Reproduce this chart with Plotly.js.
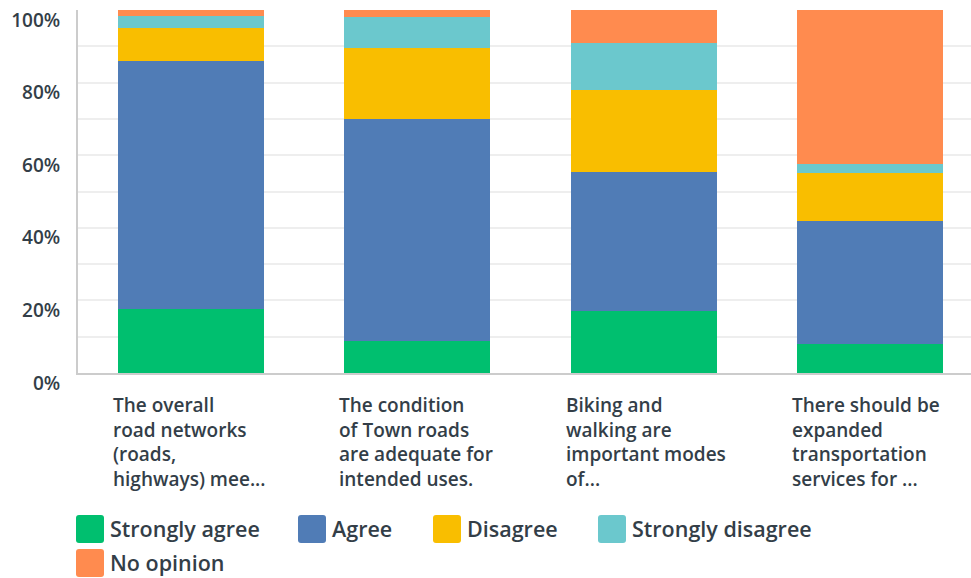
<!DOCTYPE html>
<html><head><meta charset="utf-8">
<script src="https://cdn.plot.ly/plotly-3.0.1.min.js"></script>
<style>html,body{margin:0;padding:0;background:#fff}</style>
</head><body><div id="chart" style="width:971px;height:578px"></div>
<script>
const categories = ['The overall<br>road networks<br>(roads,<br>highways) mee...', 'The condition<br>of Town roads<br>are adequate for<br>intended uses.', 'Biking and<br>walking are<br>important modes<br>of...', 'There should be<br>expanded<br>transportation<br>services for ...'];
const stronglyAgree = [17.7, 8.7, 17.1, 8.1];
const agree = [68.3, 61.3, 38.3, 33.8];
const disagree = [9.0, 19.6, 22.7, 13.2];
const stronglyDisagree = [3.3, 8.4, 12.8, 2.6];
const noOpinion = [1.7, 2.0, 9.1, 42.3];
const seriesNames = ['Strongly agree', 'Agree', 'Disagree', 'Strongly disagree', 'No opinion'];
const seriesColors = ['#00bf6f', '#507cb6', '#f9be00', '#6bc8cd', '#ff8b4f'];
const tickValues = [0, 20, 40, 60, 80, 100];
const tickLabels = ['0%', '20%', '40%', '60%', '80%', '100%'];
const gridValues = [10, 20, 30, 40, 50, 60, 70, 80, 90];

const seriesValues = [stronglyAgree, agree, disagree, stronglyDisagree, noOpinion];
const legendIds = ['legend', 'legend2', 'legend3', 'legend4', 'legend5'];
const FONT = '"Open Sans", sans-serif';
const TXT = '#333e48';

const traces = seriesValues.map((vals, i) => ({
  type: 'bar', x: categories, y: vals, name: seriesNames[i],
  marker: {color: seriesColors[i], line: {width: 0}},
  legend: legendIds[i], hoverinfo: 'name+y'
}));

const legendPos = [[76, 529], [298, 529], [433, 529], [598, 529], [76, 563]];
const layout = {
  width: 971, height: 578,
  margin: {l: 78, r: 0, t: 10, b: 205},
  paper_bgcolor: '#fff', plot_bgcolor: '#fff',
  barmode: 'stack', bargap: 0.355,
  font: {family: FONT, color: TXT},
  xaxis: {type: 'category', range: [-0.5, 3.446], showticklabels: false, showgrid: false,
    showline: true, linecolor: '#cccccc', linewidth: 2, ticks: '', fixedrange: true},
  yaxis: {range: [0, 100], tickvals: tickValues, ticktext: tickLabels, showgrid: false,
    zeroline: false, showline: true, linecolor: '#cccccc', linewidth: 2, ticks: '',
    ticklabelstandoff: 12, ticklabelshift: 10,
    tickfont: {family: FONT, size: 19, weight: 600, color: TXT},
    minor: {tickvals: gridValues, showgrid: true, gridcolor: '#eeeeee', gridwidth: 2, ticks: ''},
    fixedrange: true},
  annotations: categories.map(c => ({
    x: c, y: 0, xref: 'x', yref: 'paper', xanchor: 'left', yanchor: 'top',
    xshift: -80, yshift: -17, align: 'left', showarrow: false, text: c,
    font: {family: FONT, size: 19, weight: 600, color: TXT}
  })),
  showlegend: true
};
legendIds.forEach((id, i) => {
  layout[id] = {
    orientation: 'h', xref: 'container', yref: 'container',
    x: (legendPos[i][0] - 6) / 971, xanchor: 'left',
    y: 1 - legendPos[i][1] / 578, yanchor: 'middle',
    font: {family: FONT, size: 21.5, weight: 600, color: TXT},
    bgcolor: 'rgba(0,0,0,0)'
  };
});

Plotly.newPlot('chart', traces, layout, {displayModeBar: false, staticPlot: true}).then(() => {
  const d = 'M-11,-14H11A3,3 0 0 1 14,-11V11A3,3 0 0 1 11,14H-11A3,3 0 0 1 -14,11V-11A3,3 0 0 1 -11,-14Z';
  document.querySelectorAll('.legendpoints path').forEach(p => p.setAttribute('d', d));
});
</script>
</body></html>
